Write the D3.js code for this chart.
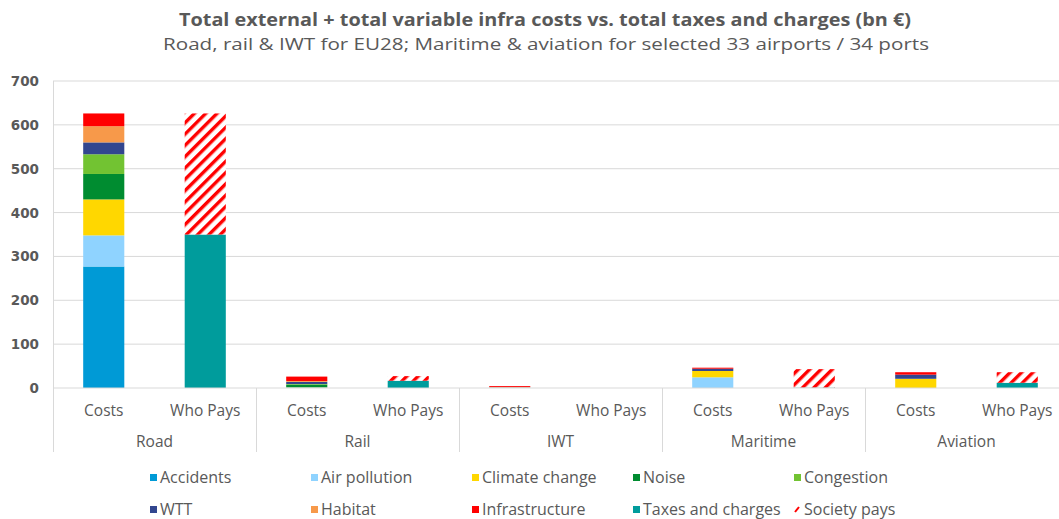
<!DOCTYPE html>
<html>
<head>
<meta charset="utf-8">
<script src="https://cdn.jsdelivr.net/npm/d3@7"></script>
<style>
  body { margin: 0; background: #fff; }
  text { font-family: "Open Sans", "Noto Sans", sans-serif; fill: #595959; }
</style>
</head>
<body>
<div id="chart-area"></div>
<script>
// values (bn €)
let modes = ["Road", "Rail", "IWT", "Maritime", "Aviation"];
let bars = ["Costs", "Who Pays"];

let costNames = ["Accidents", "Air pollution", "Climate change", "Noise", "Congestion", "WTT", "Habitat", "Infrastructure"];
let accidents      = [277, 0.5, 0.2, 0, 0];
let airPollution   = [71, 0.5, 0.8, 24.4, 0];
let climateChange  = [82, 0.5, 0.5, 14.4, 21];
let noise          = [58, 6, 0, 0, 0];
let congestion     = [45, 1.5, 0, 0, 0];
let wtt            = [27, 5, 0.3, 5.2, 9.5];
let habitat        = [37, 2, 0.2, 0, 0];
let infrastructure = [29, 10, 2.3, 2.3, 5.5];

let payNames = ["Taxes and charges", "Society pays"];
let taxes       = [350, 16.6, 0, 1, 12];
let societyPays = [276, 10.5, 0, 42, 24];

let yTicks = [0, 100, 200, 300, 400, 500, 600, 700];

let costColors = ["#009ad6", "#8fd3ff", "#ffd700", "#008c30", "#72c332", "#32468f", "#f7994a", "#ff0000"];
let taxColor = "#009c9c";

let costSeries = [accidents, airPollution, climateChange, noise, congestion, wtt, habitat, infrastructure];
let paySeries = [taxes, societyPays];

let W = 1059, H = 519;
let plot = {left: 53, right: 1068, top: 81, bottom: 388};

let svg = d3.select("#chart-area").append("svg")
    .attr("width", W)
    .attr("height", H);

// hatch for "Society pays"
let defs = svg.append("defs");
let pat = defs.append("pattern")
    .attr("id", "hatch")
    .attr("patternUnits", "userSpaceOnUse")
    .attr("width", 8).attr("height", 8)
    .attr("patternTransform", "rotate(45)");
pat.append("rect").attr("width", 8).attr("height", 8).attr("fill", "#fff");
pat.append("rect").attr("x", 0).attr("width", 3.4).attr("height", 8).attr("fill", "#ff0000");

let x0 = d3.scaleBand().domain(modes).range([plot.left, plot.right]);
let x1 = d3.scaleBand().domain(bars).range([0, x0.bandwidth()]);
let barW = x1.bandwidth() * 0.405;
let y = d3.scaleLinear().domain([0, 700]).range([plot.bottom, plot.top]);

// gridlines
svg.append("g").selectAll("line")
    .data(yTicks.slice(1))
    .join("line")
    .attr("x1", plot.left).attr("x2", W)
    .attr("y1", d => y(d)).attr("y2", d => y(d))
    .attr("stroke", "#d9d9d9").attr("stroke-width", 1);

// y axis labels
svg.append("g").selectAll("text")
    .data(yTicks)
    .join("text")
    .attr("x", 39)
    .attr("y", d => y(d) + 5)
    .attr("text-anchor", "end")
    .style("font-family", "'DejaVu Sans', sans-serif")
    .style("font-size", "13.5px")
    .style("font-weight", "bold")
    .text(d => d);

// stacks
function stackOf(series, i) {
  let acc = 0;
  return series.map((s, k) => {
    let seg = {k: k, y0: acc, y1: acc + s[i]};
    acc += s[i];
    return seg;
  });
}

modes.forEach((m, i) => {
  let g = svg.append("g");
  let cx = x0(m) + x1("Costs") + x1.bandwidth() / 2;
  g.selectAll("rect.cost")
      .data(stackOf(costSeries, i).filter(d => d.y1 > d.y0))
      .join("rect")
      .attr("class", "cost")
      .attr("x", cx - barW / 2)
      .attr("width", barW)
      .attr("y", d => y(d.y1))
      .attr("height", d => y(d.y0) - y(d.y1))
      .attr("fill", d => costColors[d.k]);

  let px = x0(m) + x1("Who Pays") + x1.bandwidth() / 2;
  g.selectAll("rect.pay")
      .data(stackOf(paySeries, i).filter(d => d.y1 > d.y0))
      .join("rect")
      .attr("class", "pay")
      .attr("x", px - barW / 2)
      .attr("width", barW)
      .attr("y", d => y(d.y1))
      .attr("height", d => y(d.y0) - y(d.y1))
      .attr("fill", d => d.k === 0 ? taxColor : "url(#hatch)");
});

// axes lines
svg.append("line")
    .attr("x1", plot.left).attr("x2", W)
    .attr("y1", plot.bottom).attr("y2", plot.bottom)
    .attr("stroke", "#d9d9d9");
svg.append("line")
    .attr("x1", plot.left + 0.5).attr("x2", plot.left + 0.5)
    .attr("y1", plot.top).attr("y2", 452)
    .attr("stroke", "#d9d9d9");
svg.append("g").selectAll("line")
    .data(modes.slice(1).concat(["end"]))
    .join("line")
    .attr("x1", d => (d === "end" ? plot.right : x0(d)) + 0.5)
    .attr("x2", d => (d === "end" ? plot.right : x0(d)) + 0.5)
    .attr("y1", plot.bottom).attr("y2", 452)
    .attr("stroke", "#d9d9d9");

// category labels
modes.forEach(m => {
  bars.forEach(b => {
    svg.append("text")
        .attr("x", x0(m) + x1(b) + x1.bandwidth() / 2)
        .attr("y", 416)
        .attr("text-anchor", "middle")
        .style("font-size", "15.5px")
        .text(b);
  });
  svg.append("text")
      .attr("x", x0(m) + x0.bandwidth() / 2)
      .attr("y", 447)
      .attr("text-anchor", "middle")
      .style("font-size", "15.5px")
      .text(m);
});

// title
svg.append("text")
    .attr("x", 545).attr("y", 26)
    .attr("text-anchor", "middle")
    .attr("textLength", 732).attr("lengthAdjust", "spacingAndGlyphs")
    .style("font-size", "17px").style("font-weight", "bold")
    .text("Total external + total variable infra costs vs. total taxes and charges (bn €)");
svg.append("text")
    .attr("x", 546).attr("y", 50)
    .attr("text-anchor", "middle")
    .attr("textLength", 766).attr("lengthAdjust", "spacingAndGlyphs")
    .style("font-size", "16px")
    .text("Road, rail & IWT for EU28; Maritime & aviation for selected 33 airports / 34 ports");

// legend
let legendItems = costNames.map((n, k) => ({name: n, fill: costColors[k]}))
    .concat([{name: payNames[0], fill: taxColor}, {name: payNames[1], fill: "hatch"}]);
let legCols = [150, 311, 472, 633, 794];
let legRows = [478, 510];

let leg = svg.append("g").selectAll("g")
    .data(legendItems)
    .join("g")
    .attr("transform", (d, i) => "translate(" + legCols[i % 5] + "," + legRows[Math.floor(i / 5)] + ")");
leg.filter(d => d.fill !== "hatch").append("rect")
    .attr("x", 0).attr("y", -4).attr("width", 7).attr("height", 7)
    .attr("fill", d => d.fill);
leg.filter(d => d.fill === "hatch").append("path")
    .attr("d", "M1,2 L5,-3")
    .attr("stroke", "#ff0000").attr("stroke-width", 2);
leg.append("text")
    .attr("x", 10).attr("y", 5)
    .style("font-size", "16px")
    .text(d => d.name);
</script>
</body>
</html>
